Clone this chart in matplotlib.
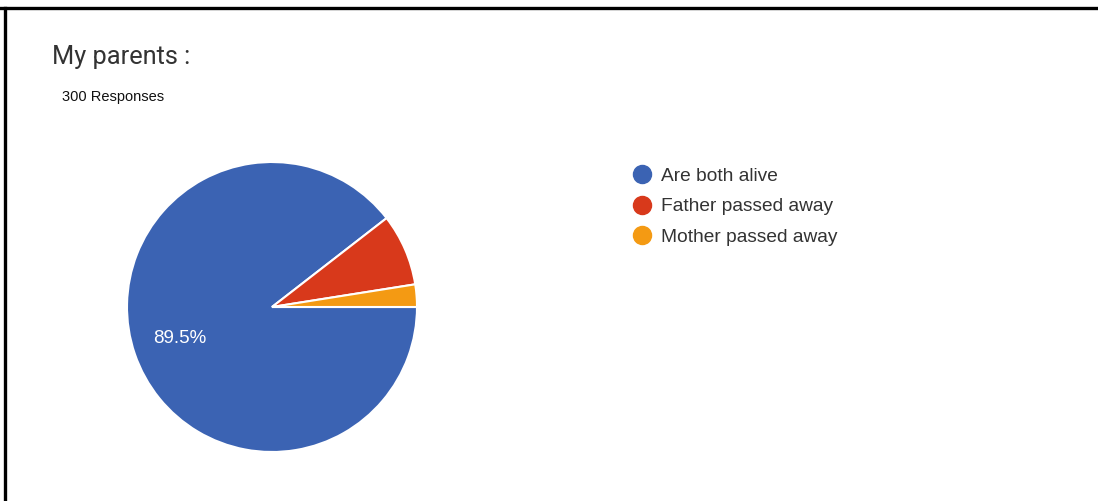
import matplotlib.pyplot as plt
from matplotlib.lines import Line2D

# survey answers, share of responses in percent
answers = ['Are both alive', 'Father passed away', 'Mother passed away']
shares = [89.5, 8.0, 2.5]
colors = ['#3b63b3', '#d8391b', '#f49a13']
n_responses = 300

W, H = 1098, 501
fig = plt.figure(figsize=(W / 100, H / 100), dpi=100)
fig.patch.set_facecolor('white')

# frame lines along top and left edge
fig.add_artist(Line2D([0, 1], [1 - 8 / H, 1 - 8 / H], color='black', lw=2.4, transform=fig.transFigure))
fig.add_artist(Line2D([5 / W, 5 / W], [0, 1 - 8 / H], color='black', lw=2.4, transform=fig.transFigure))

fig.text(52 / W, 1 - 57 / H, 'My parents :', fontsize=18.3, color='#333333',
         family='Roboto', va='center', ha='left')
fig.text(62 / W, 1 - 97 / H, f'{n_responses} Responses', fontsize=10.5, color='#111111',
         family='Liberation Sans', va='center', ha='left')

# pie, centred near (272, 307) px with radius 145 px
cx, cy, r = 272, 307, 145
ax = fig.add_axes([(cx - r) / W, 1 - (cy + r) / H, 2 * r / W, 2 * r / H])
wedges, texts, autotexts = ax.pie(
    shares, colors=colors, startangle=0, counterclock=False,
    autopct=lambda p: f'{p:.1f}%' if p > 10 else '', pctdistance=0.67,
    wedgeprops=dict(edgecolor='white', linewidth=1.5),
    textprops=dict(color='white', fontsize=13.5, family='Liberation Sans'))
ax.set(aspect='equal', xlim=(-1, 1), ylim=(-1, 1))

handles = [Line2D([], [], marker='o', linestyle='none', markersize=13,
                  markerfacecolor=c, markeredgecolor=c) for c in colors]
fig.legend(handles, answers, loc='upper left', bbox_to_anchor=(623 / W, 1 - 158 / H),
           frameon=False, borderpad=0, handletextpad=0.5, handlelength=1.0,
           labelspacing=0.68, prop=dict(family='Liberation Sans', size=13.8),
           labelcolor='#333333')

fig.savefig('out.png', dpi=100, facecolor='white')
